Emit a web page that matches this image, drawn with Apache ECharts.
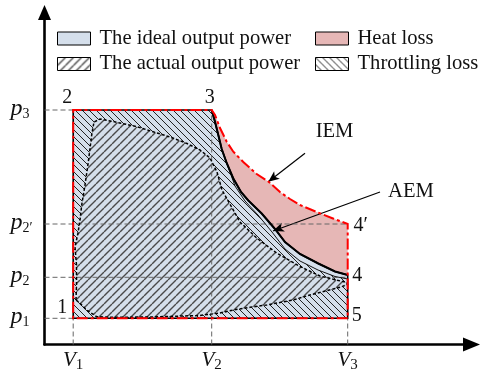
<!DOCTYPE html>
<html><head><meta charset="utf-8">
<script src="https://cdn.jsdelivr.net/npm/echarts@6/dist/echarts.min.js"></script>
<style>html,body{margin:0;padding:0;background:#fff}#c{width:481px;height:375px}</style>
</head><body><div id="c"></div>
<script>
// ---- data (units: arbitrary V / p scale) ----
const volumeTicks = [28.7, 167.2, 303.2];
const volumeNames = ['1', '2', '3'];
const pressureTicks = [26.2, 67.2, 120.5, 234.5];
const pressureNames = ['1', '2', '2\u2032', '3'];
// state points: 1, 2, 3, 4, 4', 5
const stateNames = ['1', '2', '3', '4', '4\u2032', '5'];
const stateV = [28.7, 28.7, 167.2, 303.2, 303.2, 303.2];
const stateP = [26.2, 234.5, 234.5, 69.5, 120.5, 26.2];
// ideal expansion curve IEM (3 -> 4')
const iemV = [167.2,170.5,175.5,182.2,188.8,198.8,212.2,223.8,235.5,245.5,255.5,272.2,288.5,303.2];
const iemP = [234.5,229.5,216.5,202.8,192.8,182.5,170.5,163.0,152.5,145.5,139.5,132.5,126.0,120.5];
// actual expansion curve AEM (3 -> 4)
const aemV = [167.2,170.5,173.8,177.2,182.2,188.8,196.5,203.8,217.2,230.5,240.5,255.5,273.8,290.5,303.2];
const aemP = [234.5,222.8,209.5,195.5,181.5,166.0,152.5,144.0,131.0,115.5,102.5,90.5,81.0,73.0,69.5];
// inner expansion line just below AEM
const innerV = [182.2,190.5,200.5,213.5,227.5,240.5,255.5,273.5,290.5,303.2];
const innerP = [181.5,158.5,143.5,129.5,112.5,95.5,83.5,74.5,68.0,65.5];
// actual cycle (dotted loop)
const actualV = [31.5,32,32,30.5,33.5,35.5,37.2,40.5,43.8,47.2,49.5,55.5,68.5,92.5,108.5,125.5,142.5,155.5,165.5,172.5,177.5,186.5,195.5,212.2,232.2,255.5,275.5,302.2,303,295.5,282.2,265.5,248.5,222.2,205.5,188.8,175.5,155.5,105.5,65.5,52.2,42.2,33.8];
const actualP = [44.5,59.5,79.5,97.5,111.5,124.5,139.5,159.5,182.5,209.5,222.5,225.5,223,217.8,212.8,207.5,201,194.5,186.5,172.5,154.5,138.5,122.5,106.5,91.5,78,68.5,62,60,57.2,53.8,49.5,44.5,39.5,37.2,34.5,31.5,29,27.5,27.2,27.8,34.5,42.8];
// annotations
const noteText = ['IEM', 'AEM'];
const noteV = [290, 366.5];
const noteP = [213, 152.5];
const arrowFromV = [260.5, 335.5];
const arrowFromP = [191.2, 152.5];
const arrowToV = [223.8, 228.5];
const arrowToP = [162.8, 113.5];

// ---- helpers ----
const zip = (a, b) => a.map((v, i) => [v, b[i]]);
const S = zip(stateV, stateP);
const iem = zip(iemV, iemP);
const aem = zip(aemV, aemP);
const inner = zip(innerV, innerP);
const actual = zip(actualV, actualP);
const idealPoly = [S[0], S[1]].concat(aem, [S[5]]);
const throttlePoly = [S[0], S[1]].concat(aem.slice(0, 5), inner.slice(1), [S[5]]);
const heatPoly = iem.concat([S[3]], aem.slice().reverse());

const blue = '#d5dfeb', pink = '#e6b7b6';
const FONT = '"Liberation Serif", "Times New Roman", serif';

function hatch(dir, s, color, w) {
  const c = document.createElement('canvas');
  c.width = s; c.height = s;
  const ctx = c.getContext('2d');
  ctx.strokeStyle = color; ctx.lineWidth = w;
  ctx.beginPath();
  for (let k = -1; k <= 1; k++) {
    if (dir === '/') { ctx.moveTo(k * s, s); ctx.lineTo(k * s + s, 0); }
    else { ctx.moveTo(k * s, 0); ctx.lineTo(k * s + s, s); }
  }
  ctx.stroke();
  return { image: c, repeat: 'repeat' };
}
const hatchFwd = hatch('/', 8, '#4a4a4a', 1.4);
const hatchBack = hatch('\\', 7, '#222', 1);

const nearest = (arr, v) => { let b = 0; arr.forEach((a, i) => { if (Math.abs(a - v) < Math.abs(arr[b] - v)) b = i; }); return b; };
const coords = (api, pts) => pts.map(p => api.coord(p));

const chart = echarts.init(document.getElementById('c'), null, { renderer: 'canvas' });

const labelOffsets = [[-11, -11], [-6, -12], [-2, -12], [9.5, 1], [13, 2], [9, -3]];

chart.setOption({
  animation: false,
  backgroundColor: '#fff',
  grid: { left: 44.5, right: 9.5, top: 12.5, bottom: 30.5, containLabel: false, outerBoundsMode: 'none' },
  legend: [
    { left: 57, top: 27.5, orient: 'vertical', icon: 'rect', itemWidth: 33, itemHeight: 13, itemGap: 3.5,
      selectedMode: false, padding: 0,
      itemStyle: { borderColor: '#000', borderWidth: 1 },
      textStyle: { fontFamily: FONT, fontSize: 20.6, color: '#111', lineHeight: 22, padding: [0, 0, 0, 4] },
      data: ['The ideal output power', 'The actual output power'] },
    { left: 315, top: 27.5, orient: 'vertical', icon: 'rect', itemWidth: 33, itemHeight: 13, itemGap: 3.5,
      selectedMode: false, padding: 0,
      itemStyle: { borderColor: '#000', borderWidth: 1 },
      textStyle: { fontFamily: FONT, fontSize: 20.6, color: '#111', lineHeight: 22, padding: [0, 0, 0, 4] },
      data: ['Heat loss', 'Throttling loss'] }
  ],
  xAxis: {
    type: 'value', min: 0, max: 427,
    splitLine: { show: false }, axisTick: { show: false },
    axisLine: { onZero: false, symbol: ['none', 'triangle'], symbolSize: [14, 17], lineStyle: { color: '#000', width: 2.6 } },
    axisLabel: {
      customValues: volumeTicks, margin: 4,
      formatter: v => '{v|V}{s|' + volumeNames[nearest(volumeTicks, v)] + '}',
      rich: {
        v: { fontFamily: FONT, fontStyle: 'italic', fontSize: 21, color: '#111', lineHeight: 24 },
        s: { fontFamily: FONT, fontSize: 15, color: '#111', lineHeight: 24, padding: [10, 0, 0, 0] }
      }
    }
  },
  yAxis: {
    type: 'value', min: 0, max: 332,
    splitLine: { show: false }, axisTick: { show: false },
    axisLine: { onZero: false, symbol: ['none', 'triangle'], symbolSize: [13, 15], lineStyle: { color: '#000', width: 2.6 } },
    axisLabel: {
      customValues: pressureTicks, margin: 34, align: 'left',
      formatter: v => '{p|p}{s|' + pressureNames[nearest(pressureTicks, v)] + '}',
      rich: {
        p: { fontFamily: FONT, fontStyle: 'italic', fontSize: 24, color: '#111', lineHeight: 26, padding: [0, 0, 3, 0] },
        s: { fontFamily: FONT, fontSize: 14, color: '#111', lineHeight: 26, padding: [8, 0, 0, 0] }
      }
    }
  },
  series: [
    { type: 'custom', name: 'The ideal output power', data: [[0, 0]], clip: false, silent: true, z: 1,
      itemStyle: { color: blue },
      renderItem: (p, api) => ({ type: 'polygon', shape: { points: coords(api, idealPoly) }, style: { fill: blue } }) },
    { type: 'custom', name: 'Throttling loss', data: [[0, 0]], clip: false, silent: true, z: 2,
      itemStyle: { color: hatchBack },
      renderItem: (p, api) => ({ type: 'polygon', shape: { points: coords(api, throttlePoly) }, style: { fill: hatchBack } }) },
    { type: 'custom', name: 'The actual output power', data: [[0, 0]], clip: false, silent: true, z: 3,
      itemStyle: { color: hatchFwd },
      renderItem: (p, api) => ({ type: 'group', children: [
        { type: 'polygon', shape: { points: coords(api, actual) }, style: { fill: blue } },
        { type: 'polygon', shape: { points: coords(api, actual) }, style: { fill: hatchFwd } }
      ] }) },
    { type: 'custom', name: 'Heat loss', data: [[0, 0]], clip: false, silent: true, z: 4,
      itemStyle: { color: pink },
      renderItem: (p, api) => ({ type: 'polygon', shape: { points: coords(api, heatPoly) }, style: { fill: pink } }) },
    { type: 'custom', name: 'guides', data: [[0, 0]], clip: false, silent: true, z: 5,
      renderItem: (p, api) => {
        const segs = [
          [[0, pressureTicks[3]], [volumeTicks[0], pressureTicks[3]]],
          [[0, pressureTicks[2]], [volumeTicks[2], pressureTicks[2]]],
          [[0, pressureTicks[1]], [volumeTicks[2], pressureTicks[1]]],
          [[0, pressureTicks[0]], [volumeTicks[0], pressureTicks[0]]],
          [[volumeTicks[0], 0], [volumeTicks[0], pressureTicks[0]]],
          [[volumeTicks[1], 0], [volumeTicks[1], pressureTicks[3]]],
          [[volumeTicks[2], 0], [volumeTicks[2], pressureTicks[0]]]
        ];
        return { type: 'group', children: segs.map(s => ({ type: 'polyline', shape: { points: coords(api, s) },
          style: { stroke: '#666', lineWidth: 1, fill: null, lineDash: [5, 3] } })) };
      } },
    { type: 'custom', name: 'outlines', data: [[0, 0]], clip: false, silent: true, z: 6,
      renderItem: (p, api) => ({ type: 'group', children: [
        { type: 'polygon', shape: { points: coords(api, actual) }, style: { fill: null, stroke: '#000', lineWidth: 1.5, lineDash: [3, 2] } },
        { type: 'polyline', shape: { points: coords(api, inner) }, style: { fill: null, stroke: '#111', lineWidth: 1 } },
        { type: 'polygon', shape: { points: coords(api, idealPoly) }, style: { fill: null, stroke: '#000', lineWidth: 1.6 } },
        { type: 'polyline', shape: { points: coords(api, aem) }, style: { fill: null, stroke: '#000', lineWidth: 2 } },
        { type: 'polyline', shape: { points: coords(api, [S[5], S[0], S[1]].concat(iem, [S[5]])) },
          style: { fill: null, stroke: '#f00', lineWidth: 2, lineDash: [11, 3, 3, 3] } }
      ] }) },
    { type: 'custom', name: 'labels', data: [[0, 0]], clip: false, silent: true, z: 7,
      renderItem: (p, api) => {
        const kids = S.map((pt, i) => {
          const c = api.coord(pt);
          return { type: 'text', x: c[0] + labelOffsets[i][0], y: c[1] + labelOffsets[i][1],
            style: { text: stateNames[i], fontFamily: FONT, fontSize: 20, fill: '#111', align: 'center', verticalAlign: 'middle' } };
        });
        noteText.forEach((t, i) => {
          const c = api.coord([noteV[i], noteP[i]]);
          kids.push({ type: 'text', x: c[0], y: c[1],
            style: { text: t, fontFamily: FONT, fontSize: 20.6, fill: '#111', align: 'center', verticalAlign: 'middle' } });
        });
        return { type: 'group', children: kids };
      } },
    { type: 'line', name: 'arrows', data: [], silent: true, z: 8,
      markLine: { silent: true, animation: false, symbol: ['none', 'arrow'], symbolSize: [7, 11],
        lineStyle: { color: '#000', width: 1.2, type: 'solid' }, label: { show: false }, emphasis: { disabled: true },
        data: arrowFromV.map((v, i) => [{ coord: [v, arrowFromP[i]] }, { coord: [arrowToV[i], arrowToP[i]] }]) } }
  ]
});
</script></body></html>
